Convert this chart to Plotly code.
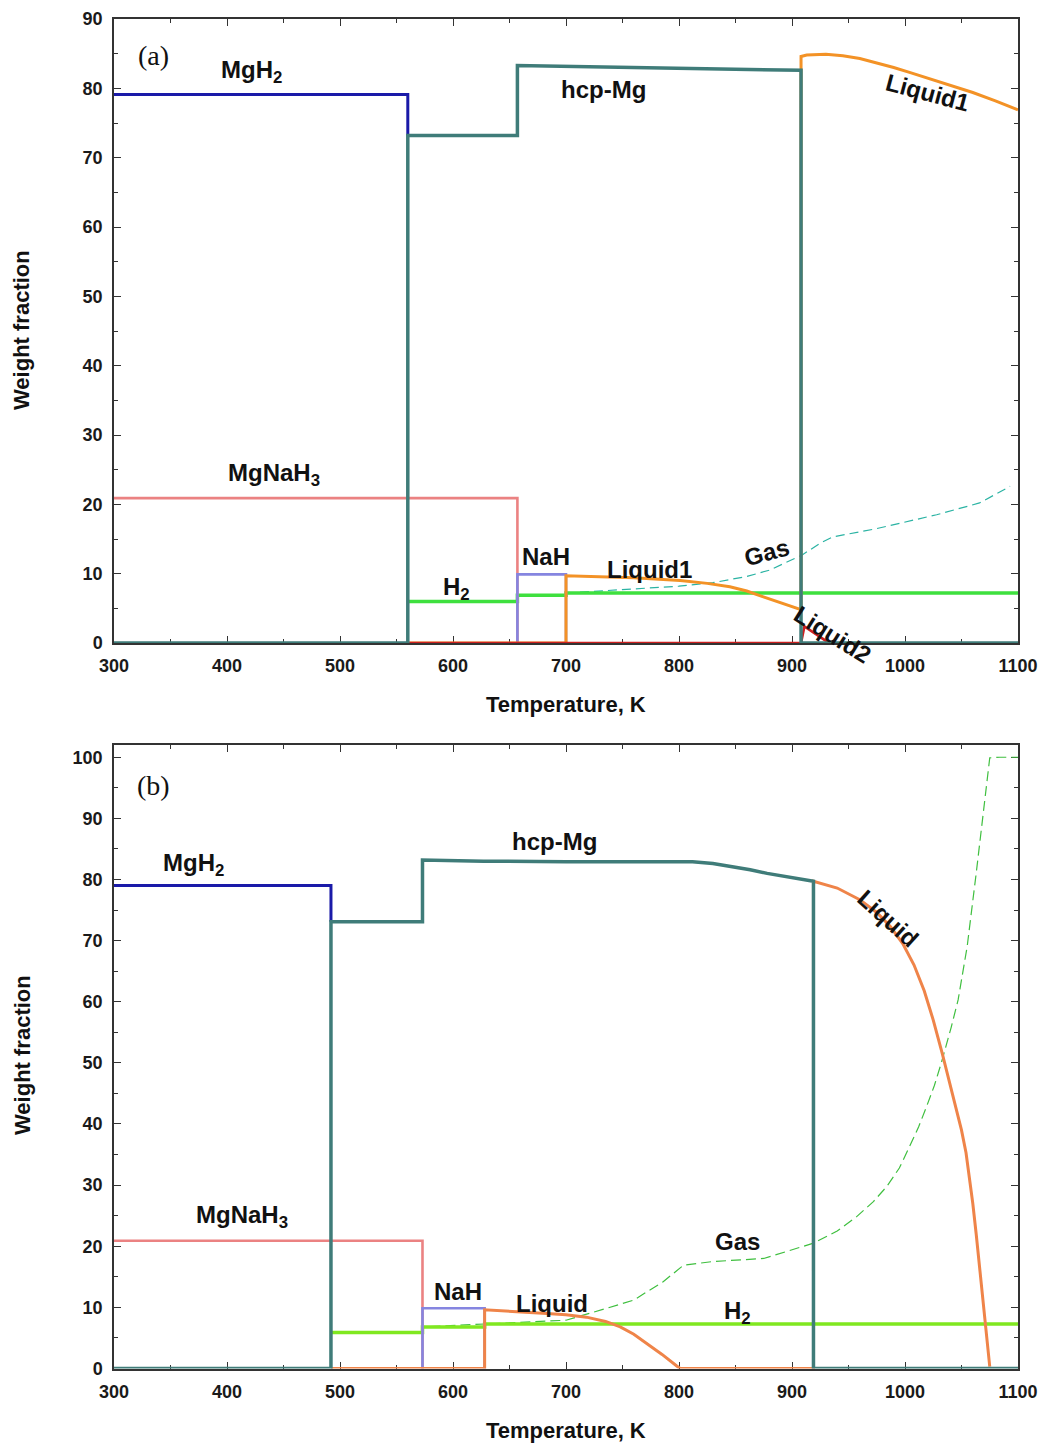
import plotly.graph_objects as go

# ---------------- Panel (a) data ----------------
T_mgh2_a = [300, 560, 560]
W_mgh2_a = [79.1, 79.1, 73.2]

T_hcp_a = [300, 560, 560, 657, 657, 750, 850, 908, 908, 1100]
W_hcp_a = [0, 0, 73.2, 73.2, 83.3, 83.0, 82.8, 82.6, 0, 0]

T_mgnah3_a = [300, 657, 657]
W_mgnah3_a = [20.9, 20.9, 0]

T_nah_a = [657, 657, 700, 700]
W_nah_a = [0, 9.9, 9.9, 0]

T_liq1_a = [560, 700, 700, 724, 760, 801, 825, 845, 860, 874, 890, 908, 908, 913, 930, 945, 960,
            975, 990, 1004, 1020, 1040, 1060, 1080, 1100]
W_liq1_a = [0, 0, 9.7, 9.6, 9.4, 9.0, 8.6, 8.1, 7.5, 6.7, 5.8, 4.8, 84.6, 84.8, 84.9, 84.7, 84.3,
            83.7, 83.0, 82.3, 81.5, 80.5, 79.4, 78.2, 76.9]

T_liq2_a = [560, 908, 911, 931]
W_liq2_a = [0, 0, 2.4, 0.2]

T_h2_a = [560, 657, 657, 700, 700, 1100]
W_h2_a = [6.0, 6.0, 6.9, 6.9, 7.2, 7.2]

T_gas_a = [700, 741, 800, 830, 860, 880, 900, 909, 925, 936, 975, 1002, 1028, 1066, 1093]
W_gas_a = [7.2, 7.6, 8.2, 8.7, 9.6, 10.5, 12.0, 12.7, 14.4, 15.3, 16.5, 17.5, 18.5, 20.2, 22.6]

# ---------------- Panel (b) data ----------------
T_mgh2_b = [300, 492, 492]
W_mgh2_b = [79.0, 79.0, 73.1]

T_hcp_b = [300, 492, 492, 573, 573, 627, 700, 812, 830, 848, 863, 878, 898, 919, 919, 1100]
W_hcp_b = [0, 0, 73.1, 73.1, 83.2, 83.0, 82.9, 82.9, 82.6, 82.1, 81.6, 81.0, 80.4, 79.7, 0, 0]

T_mgnah3_b = [300, 573, 573]
W_mgnah3_b = [20.9, 20.9, 0]

T_nah_b = [573, 573, 628, 628]
W_nah_b = [0, 9.85, 9.85, 0]

T_liq_b = [492, 628, 628, 660, 683, 700, 718, 735, 748, 760, 771, 785, 798, 801, 919, 919,
           940, 960, 975, 987, 998, 1008, 1017, 1025, 1033, 1040, 1046, 1050, 1054, 1057,
           1060, 1063, 1066, 1069, 1072, 1075]
W_liq_b = [0, 0, 9.6, 9.3, 9.0, 8.8, 8.4, 7.7, 6.8, 5.6, 4.2, 2.3, 0.4, 0, 0, 79.7,
           78.6, 76.7, 74.6, 72.3, 69.5, 66.0, 61.8, 57.0, 51.5, 46.5, 42.3, 39.0, 35.3, 31.5,
           27.0, 22.0, 16.7, 11.3, 5.5, 0.3]

T_h2_b = [492, 573, 573, 628, 628, 1100]
W_h2_b = [5.9, 5.9, 6.8, 6.8, 7.3, 7.3]

T_gas_b = [492, 573, 573, 628, 700, 736, 760, 786, 804, 830, 875, 919, 940, 957, 972, 984,
           995, 1004, 1012, 1019, 1026, 1032, 1037, 1041, 1047, 1055, 1063, 1069, 1075, 1084, 1100]
W_gas_b = [5.9, 5.9, 6.8, 7.3, 7.9, 9.85, 11.2, 14.2, 16.9, 17.5, 18.0, 20.5, 22.5, 24.8, 27.3,
           29.8, 32.8, 36.3, 39.5, 42.8, 46.3, 49.9, 53.0, 55.9, 60.3, 69.0, 81.0, 90.3, 99.9, 100, 100]

x_ticks = [300, 400, 500, 600, 700, 800, 900, 1000, 1100]

C_MGH2 = "#1a1aa8"
C_HCP = "#3f7c79"
C_MGNAH3 = "#eb8282"
C_NAH = "#8585e0"
C_LIQ_A = "#f39226"
C_LIQ_B = "#ef8449"
C_LIQ2 = "#cc1f1f"
C_H2_A = "#3ee03e"
C_H2_B = "#80e820"
C_GAS_A = "#2ab3a3"
C_GAS_B = "#3fbf3f"

fig = go.Figure()

def add(T, W, color, width, xa, ya, dash=None):
    fig.add_trace(go.Scatter(
        x=T, y=W, mode="lines", xaxis=xa, yaxis=ya,
        line=dict(color=color, width=width, dash=dash),
        cliponaxis=False, showlegend=False, hoverinfo="skip"))

# panel a
add(T_gas_a, W_gas_a, C_GAS_A, 1.2, "x", "y", dash="9px,5px")
add(T_h2_a, W_h2_a, C_H2_A, 3.5, "x", "y")
add(T_mgnah3_a, W_mgnah3_a, C_MGNAH3, 2.6, "x", "y")
add(T_nah_a, W_nah_a, C_NAH, 2.6, "x", "y")
add(T_liq1_a, W_liq1_a, C_LIQ_A, 3, "x", "y")
add(T_liq2_a, W_liq2_a, C_LIQ2, 2.6, "x", "y")
add(T_mgh2_a, W_mgh2_a, C_MGH2, 3, "x", "y")
add(T_hcp_a, W_hcp_a, C_HCP, 3.5, "x", "y")

# panel b
add(T_gas_b, W_gas_b, C_GAS_B, 1.2, "x2", "y2", dash="10px,5px")
add(T_h2_b, W_h2_b, C_H2_B, 3.5, "x2", "y2")
add(T_mgnah3_b, W_mgnah3_b, C_MGNAH3, 2.6, "x2", "y2")
add(T_nah_b, W_nah_b, C_NAH, 2.6, "x2", "y2")
add(T_liq_b, W_liq_b, C_LIQ_B, 3, "x2", "y2")
add(T_mgh2_b, W_mgh2_b, C_MGH2, 3, "x2", "y2")
add(T_hcp_b, W_hcp_b, C_HCP, 3.5, "x2", "y2")

tickfont = dict(family="Liberation Sans, Arial", size=18, color="#1a1a1a", weight="bold")
xdom = [114 / 1043, 1018 / 1043]

def xaxis_cfg(anchor):
    return dict(domain=xdom, anchor=anchor, range=[300, 1100], tickvals=x_ticks,
                ticks="inside", ticklen=7, tickwidth=1.2, tickcolor="#333",
                minor=dict(dtick=50, tick0=0, ticks="inside", ticklen=4, tickcolor="#333"),
                showline=True, linecolor="#333", linewidth=1.5, mirror="allticks",
                showgrid=False, zeroline=False, tickfont=tickfont, automargin=False,
                layer="below traces", ticklabelstandoff=6)

def yaxis_cfg(anchor, dom, rng, dtick):
    return dict(domain=dom, anchor=anchor, range=rng, dtick=dtick, tick0=0,
                ticks="inside", ticklen=7, tickwidth=1.2, tickcolor="#333",
                minor=dict(dtick=5, tick0=0, ticks="inside", ticklen=4, tickcolor="#333"),
                showline=True, linecolor="#333", linewidth=1.5, mirror="allticks",
                showgrid=False, zeroline=False, tickfont=tickfont, automargin=False,
                layer="below traces", ticklabelstandoff=6)

fig.update_layout(
    width=1043, height=1445, template="none",
    paper_bgcolor="white", plot_bgcolor="white",
    margin=dict(l=0, r=0, t=0, b=0),
    xaxis=xaxis_cfg("y"),
    yaxis=yaxis_cfg("x", [1 - 643 / 1445, 1 - 19 / 1445], [0, 90], 10),
    xaxis2=xaxis_cfg("y2"),
    yaxis2=yaxis_cfg("x2", [1 - 1368.5 / 1445, 1 - 745 / 1445], [0, 102], 10),
)

lab = dict(family="Liberation Sans, Arial", size=24, color="#111", weight="bold")

def note(text, x, y, xa, ya, angle=0):
    fig.add_annotation(text=text, x=x, y=y, xref=xa, yref=ya, showarrow=False,
                       textangle=angle, font=lab, xanchor="center", yanchor="middle")

# panel a labels
note("MgH<sub>2</sub>", 422, 82.4, "x", "y")
note("hcp-Mg", 733, 79.8, "x", "y")
note("Liquid1", 1020, 79.4, "x", "y", angle=15)
note("MgNaH<sub>3</sub>", 442, 24.3, "x", "y")
note("NaH", 682, 12.5, "x", "y")
note("H<sub>2</sub>", 603, 7.8, "x", "y")
note("Liquid1", 774, 10.6, "x", "y")
note("Gas", 877, 13.1, "x", "y", angle=-15)
note("Liquid2", 936, 1.2, "x", "y", angle=32)

# panel b labels
note("MgH<sub>2</sub>", 370, 82.4, "x2", "y2")
note("hcp-Mg", 690, 86.2, "x2", "y2")
note("Liquid", 985, 73.6, "x2", "y2", angle=42)
note("MgNaH<sub>3</sub>", 413, 24.8, "x2", "y2")
note("NaH", 604, 12.6, "x2", "y2")
note("Liquid", 688, 10.7, "x2", "y2")
note("Gas", 852, 20.7, "x2", "y2")
note("H<sub>2</sub>", 852, 9.1, "x2", "y2")

# panel letters
serif = dict(family="Liberation Serif, Times New Roman", size=28, color="#111")
for txt, yc in (("(a)", 55), ("(b)", 785)):
    fig.add_annotation(text=txt, x=153 / 1043, y=1 - yc / 1445, xref="paper", yref="paper",
                       showarrow=False, font=serif, xanchor="center", yanchor="middle")

# axis titles
tfont = dict(family="Liberation Sans, Arial", size=22, color="#111", weight="bold")
for yc in (330, 1055):
    fig.add_annotation(text="Weight fraction", x=22 / 1043, y=1 - yc / 1445, xref="paper",
                       yref="paper", showarrow=False, textangle=-90, font=tfont,
                       xanchor="center", yanchor="middle")
for yc in (704, 1430):
    fig.add_annotation(text="Temperature, K", x=566 / 1043, y=1 - yc / 1445, xref="paper",
                       yref="paper", showarrow=False, font=tfont,
                       xanchor="center", yanchor="middle")

fig.write_html("out.html")
